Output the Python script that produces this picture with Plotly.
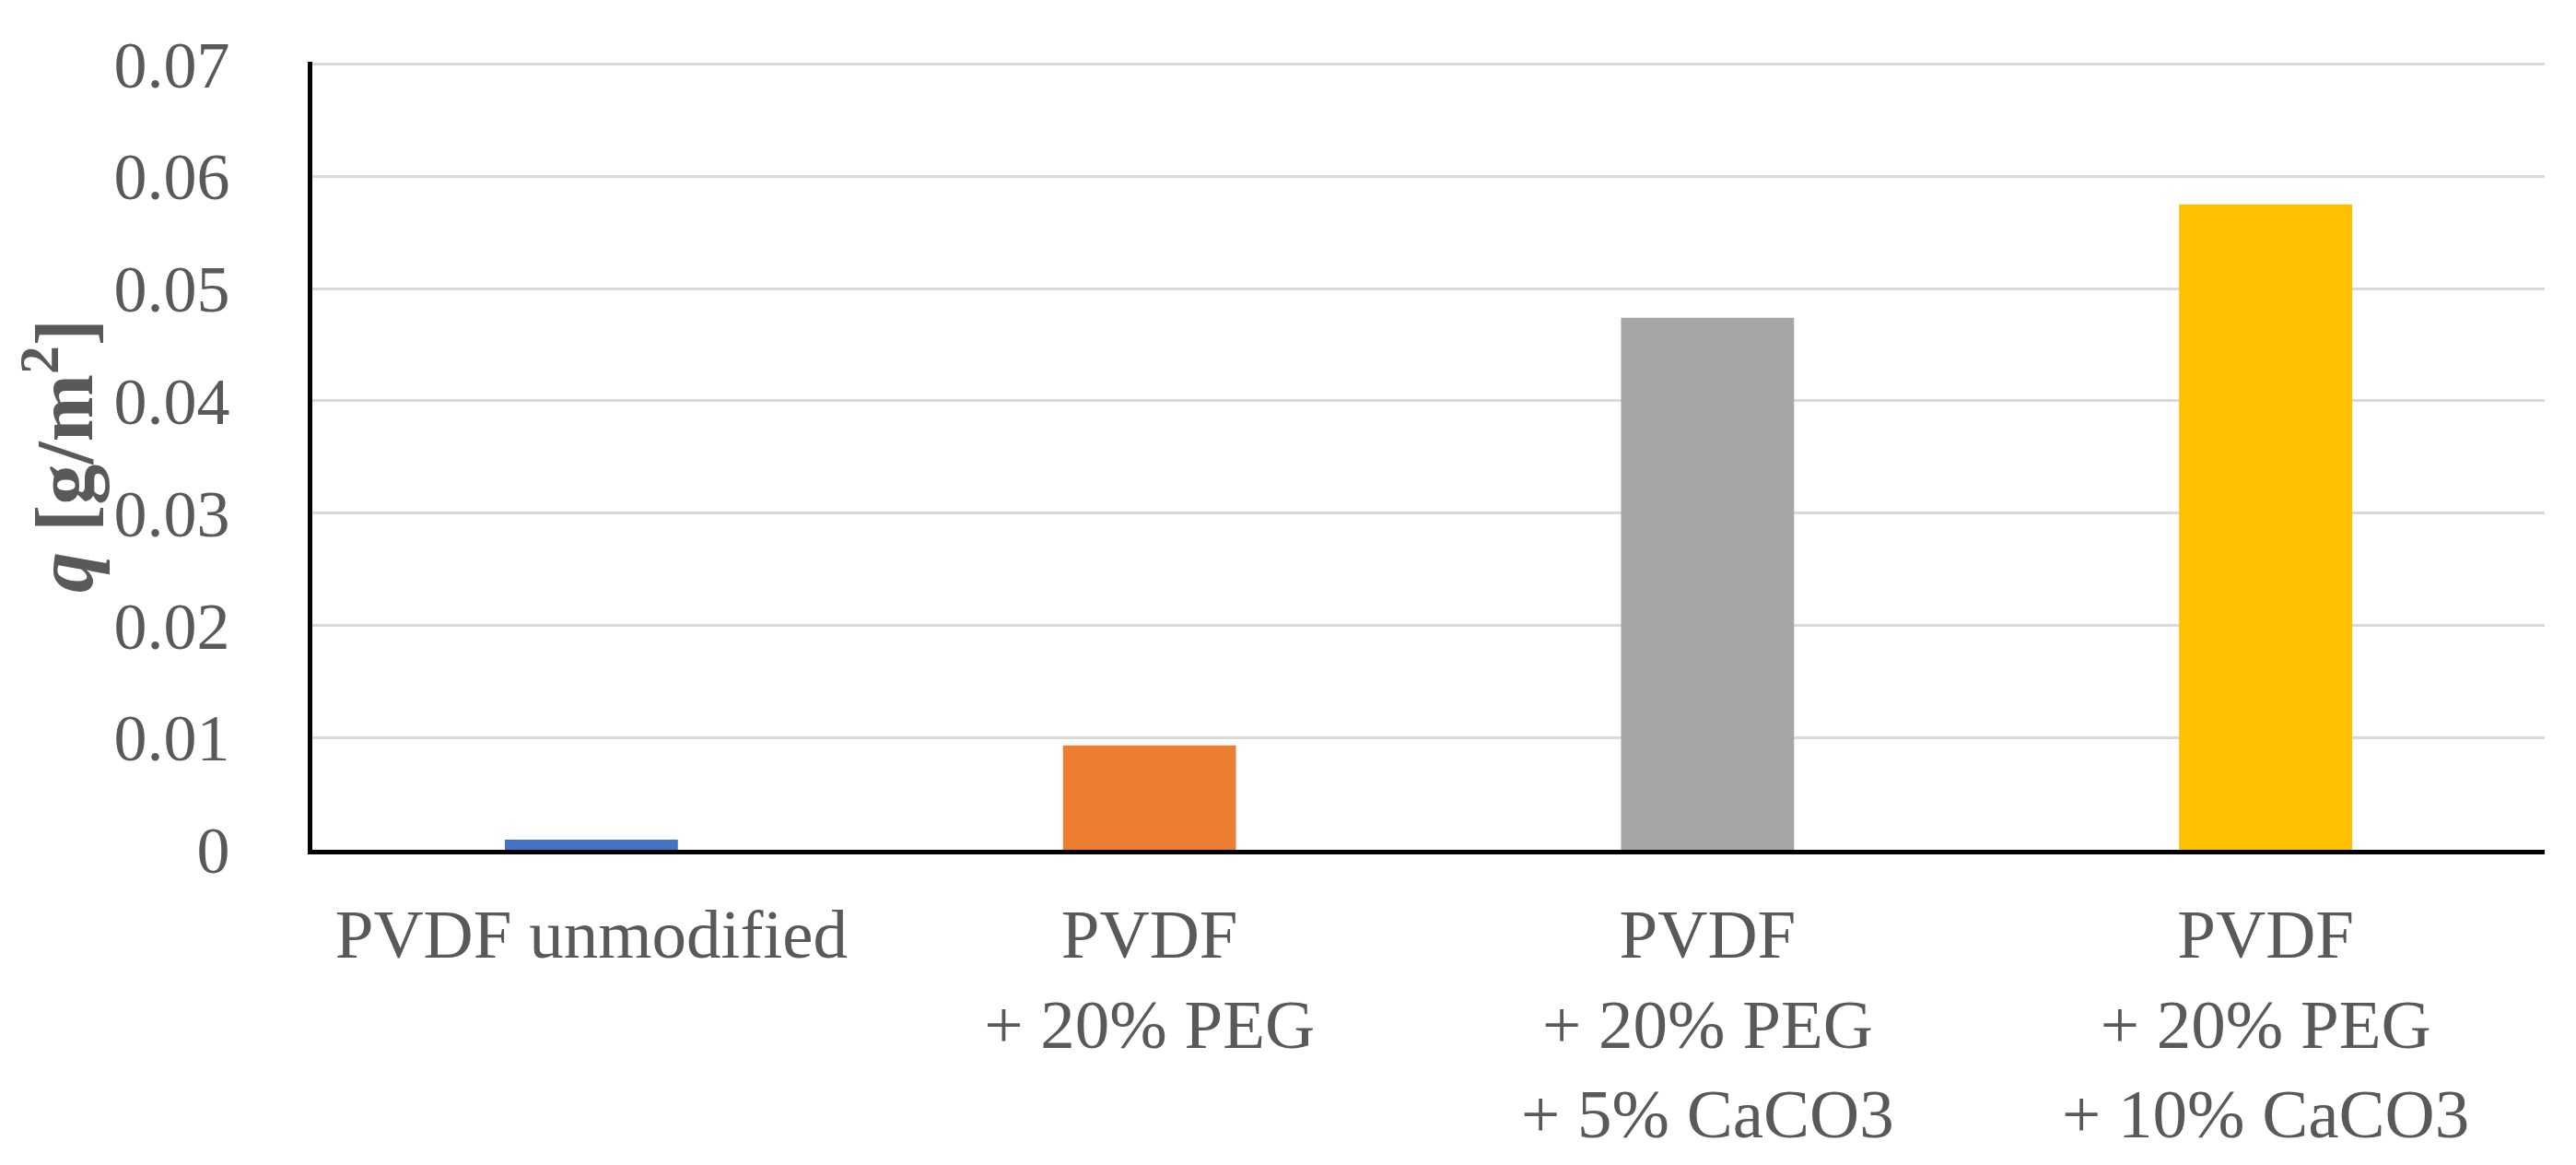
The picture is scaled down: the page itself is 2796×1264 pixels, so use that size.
import plotly.graph_objects as go

categories = [
    "PVDF unmodified",
    "PVDF<br>+ 20% PEG",
    "PVDF<br>+ 20% PEG<br>+ 5% CaCO3",
    "PVDF<br>+ 20% PEG<br>+ 10% CaCO3",
]
values = [0.0009, 0.0093, 0.0474, 0.0575]
colors = ["#4472C4", "#ED7D31", "#A5A5A5", "#FFC000"]
y_ticks = [0, 0.01, 0.02, 0.03, 0.04, 0.05, 0.06, 0.07]
y_ticklabels = ["0", "0.01", "0.02", "0.03", "0.04", "0.05", "0.06", "0.07"]

fig = go.Figure(
    go.Bar(
        x=categories,
        y=values,
        marker=dict(color=colors, line=dict(width=0)),
        width=0.31,
    )
)

font_family = "Liberation Serif"
grey = "#595959"

fig.update_layout(
    width=2796,
    height=1264,
    margin=dict(l=331, r=42, t=59, b=350),
    paper_bgcolor="white",
    plot_bgcolor="white",
    showlegend=False,
    font=dict(family=font_family, color=grey),
    bargap=0.69,
)

fig.update_xaxes(
    showline=True,
    linecolor="black",
    linewidth=5,
    showgrid=False,
    ticks="",
    tickfont=dict(family=font_family, size=75, color=grey),
    ticklabelstandoff=22,
    automargin=False,
)

fig.update_yaxes(
    range=[0, 0.0702],
    tickvals=y_ticks,
    ticktext=y_ticklabels,
    showline=True,
    linecolor="black",
    linewidth=5,
    showgrid=True,
    gridcolor="#D9D9D9",
    gridwidth=3,
    zeroline=False,
    ticks="",
    tickfont=dict(family=font_family, size=72, color=grey),
    ticklabelstandoff=70,
    title=dict(
        text="<b><i>q</i> [g/m<sup>2</sup>]</b>",
        font=dict(family=font_family, size=88, color=grey),
        standoff=16,
    ),
    automargin=False,
)

fig.write_html("out.html")
